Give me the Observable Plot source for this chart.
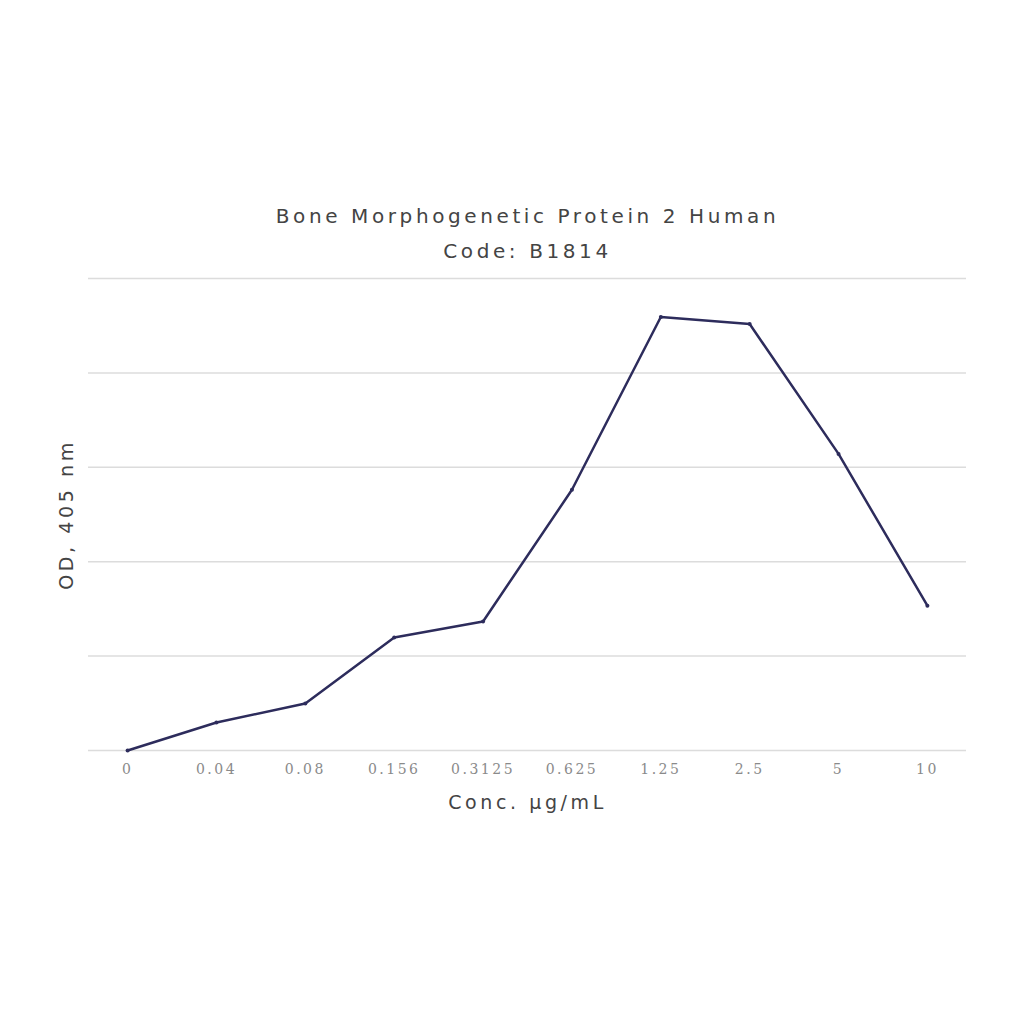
<!DOCTYPE html>
<html>
<head>
<meta charset="utf-8">
<script src="https://cdn.jsdelivr.net/npm/d3@7"></script>
<script src="https://cdn.jsdelivr.net/npm/@observablehq/plot@0.6"></script>
<style>
  html, body { margin: 0; padding: 0; background: #fff; }
</style>
</head>
<body>
<div id="chart"></div>
<script>
const concentrations = ["0", "0.04", "0.08", "0.156", "0.3125", "0.625", "1.25", "2.5", "5", "10"];
const odValues = [0.0, 0.148, 0.249, 0.598, 0.683, 1.381, 2.296, 2.259, 1.571, 0.767];
const gridValues = [0, 0.5, 1.0, 1.5, 2.0, 2.5];
const titleLines = ["Bone Morphogenetic Protein 2 Human", "Code: B1814"];
const xLabel = "Conc. μg/mL";
const yLabel = "OD, 405 nm";

const data = concentrations.map((c, i) => ({conc: c, od: odValues[i]}));

const sans = "DejaVu Sans, Verdana, sans-serif";

const chart = Plot.plot({
  width: 1024,
  height: 1024,
  marginLeft: 88,
  marginRight: 58,
  marginTop: 278,
  marginBottom: 274,
  style: {background: "#fff"},
  x: {type: "point", domain: concentrations, padding: 0.44, round: false, label: null},
  y: {domain: [0, 2.5], label: null, axis: null},
  marks: [
    Plot.ruleY(gridValues, {stroke: "#dcdcdc", strokeWidth: 1.5}),
    Plot.axisX({tickSize: 0, tickPadding: 14, fontSize: 14, fill: "#8a8a8a", fontFamily: "DejaVu Serif, Liberation Serif, serif", label: null}),
    Plot.line(data, {x: "conc", y: "od", stroke: "#2d2c5c", strokeWidth: 2.5}),
    Plot.dot(data, {x: "conc", y: "od", r: 2, fill: "#2d2c5c"}),
    Plot.text([titleLines[0]], {frameAnchor: "top", textAnchor: "middle", dy: -62, fontSize: 20, fill: "#444", fontFamily: sans, lineAnchor: "middle"}),
    Plot.text([titleLines[1]], {frameAnchor: "top", textAnchor: "middle", dy: -27, fontSize: 20, fill: "#444", fontFamily: sans, lineAnchor: "middle"}),
    Plot.text([xLabel], {frameAnchor: "bottom", textAnchor: "middle", dy: 52, fontSize: 19, fill: "#444", fontFamily: sans, lineAnchor: "middle"}),
    Plot.text([yLabel], {frameAnchor: "left", textAnchor: "middle", dx: -22, rotate: -90, fontSize: 19, fill: "#444", fontFamily: sans, lineAnchor: "middle"})
  ]
});
// widen the lettering to match the reference's stretched type
const svg = d3.select(chart);
svg.selectAll('g[aria-label="text"] text').style("letter-spacing", "3.6px");
svg.selectAll('g[aria-label="x-axis tick label"] text').style("letter-spacing", "2.5px");
document.getElementById("chart").appendChild(chart);
</script>
</body>
</html>
